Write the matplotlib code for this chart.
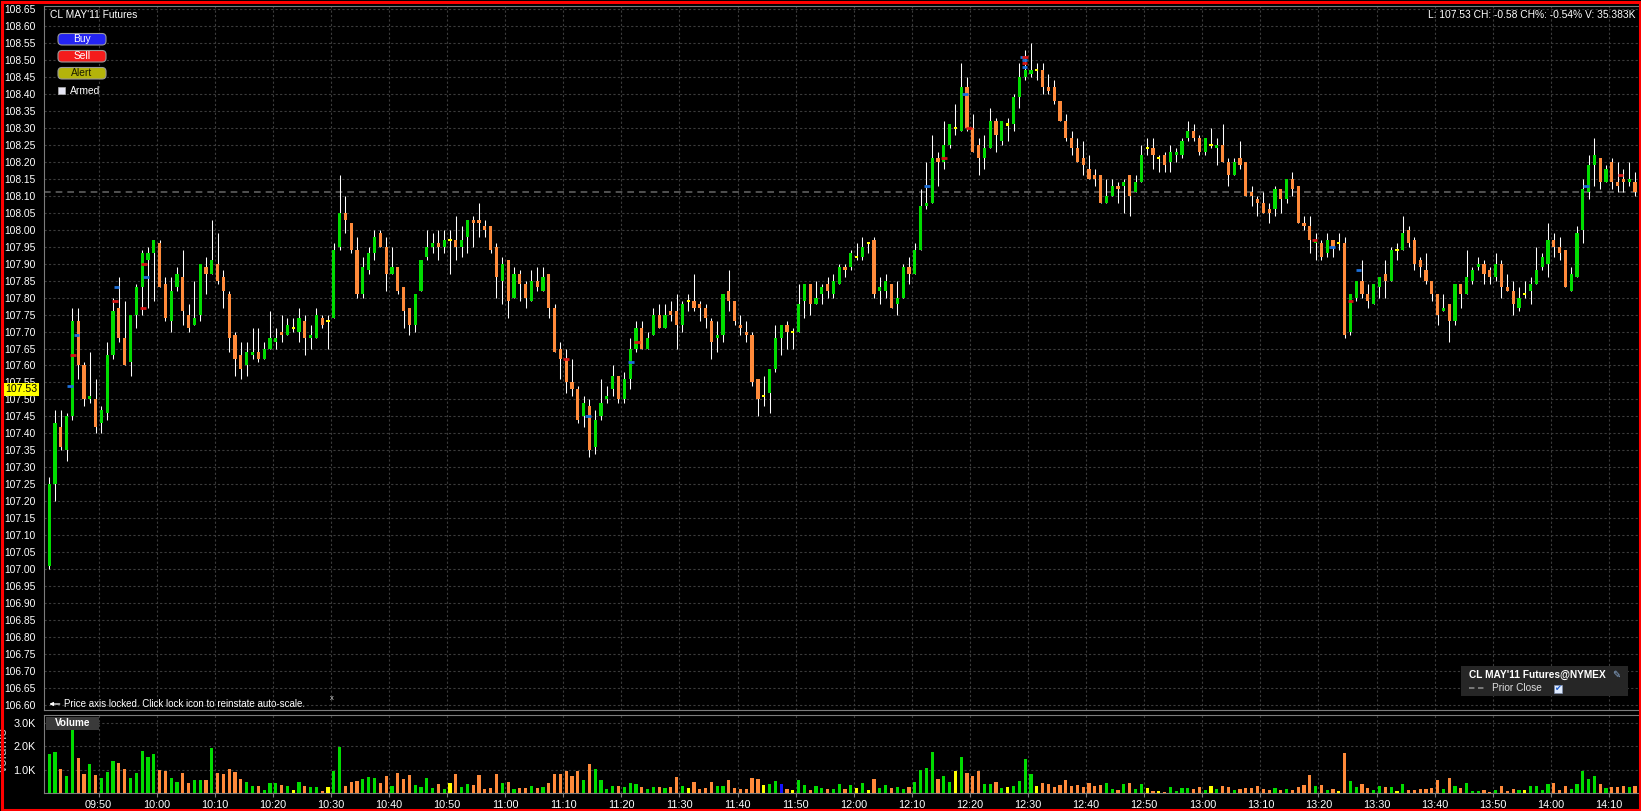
import numpy as np
import matplotlib
matplotlib.use("Agg")
import matplotlib.pyplot as plt
from matplotlib.patches import FancyBboxPatch, Rectangle, FancyArrowPatch
from matplotlib.transforms import IdentityTransform
from matplotlib.lines import Line2D

plt.rcParams["font.family"] = ["Liberation Sans", "DejaVu Sans"]

# ---- data: CL MAY'11 1-minute bars, first bar 09:41 ----
first_minute = 9 * 60 + 41

opens = [
    107.01, 107.25, 107.42, 107.35, 107.45, 107.73, 107.60, 107.50, 107.50, 107.43,
    107.46, 107.63, 107.77, 107.68, 107.61, 107.75, 107.83, 107.91, 107.93, 107.96,
    107.84, 107.73, 107.83, 107.86, 107.75, 107.72, 107.75, 107.89, 107.87, 107.90,
    107.86, 107.81, 107.69, 107.63, 107.60, 107.63, 107.64, 107.62, 107.65, 107.67,
    107.70, 107.69, 107.71, 107.70, 107.73, 107.68, 107.68, 107.74, 107.73, 107.74,
    107.95, 108.05, 108.02, 107.94, 107.81, 107.88, 107.93, 107.99, 107.95, 107.87,
    107.89, 107.83, 107.77, 107.72, 107.82, 107.92, 107.95, 107.96, 107.95, 107.97,
    107.97, 107.95, 107.98, 108.03, 108.03, 108.01, 108.01, 107.95, 107.85, 107.91,
    107.80, 107.87, 107.84, 107.79, 107.85, 107.82, 107.87, 107.77, 107.65, 107.62,
    107.55, 107.53, 107.45, 107.48, 107.36, 107.45, 107.50, 107.53, 107.57, 107.50,
    107.56, 107.65, 107.71, 107.65, 107.69, 107.75, 107.71, 107.76, 107.76, 107.72,
    107.79, 107.79, 107.78, 107.77, 107.73, 107.68, 107.69, 107.82, 107.79, 107.72,
    107.70, 107.69, 107.56, 107.51, 107.52, 107.59, 107.68, 107.72, 107.70, 107.70,
    107.79, 107.84, 107.78, 107.81, 107.84, 107.81, 107.84, 107.89, 107.89, 107.92,
    107.92, 107.96, 107.97, 107.82, 107.82, 107.84, 107.78, 107.80, 107.89, 107.87,
    107.94, 108.07, 108.08, 108.21, 108.20, 108.25, 108.30, 108.29, 108.42, 108.30,
    108.25, 108.21, 108.24, 108.32, 108.26, 108.31, 108.31, 108.39, 108.45, 108.46,
    108.47, 108.47, 108.42, 108.42, 108.38, 108.32, 108.27, 108.24, 108.21, 108.18,
    108.16, 108.16, 108.08, 108.10, 108.13, 108.13, 108.16, 108.11, 108.14, 108.24,
    108.24, 108.21, 108.22, 108.20, 108.22, 108.22, 108.27, 108.29, 108.27, 108.23,
    108.25, 108.24, 108.25, 108.20, 108.16, 108.21, 108.20, 108.11, 108.09, 108.08,
    108.06, 108.06, 108.12, 108.09, 108.15, 108.13, 108.02, 108.01, 107.96, 107.96,
    107.93, 107.97, 107.96, 107.96, 107.70, 107.80, 107.85, 107.81, 107.78, 107.83,
    107.87, 107.85, 107.94, 107.94, 108.00, 107.97, 107.91, 107.88, 107.85, 107.81,
    107.76, 107.78, 107.73, 107.84, 107.81, 107.85, 107.89, 107.90, 107.88, 107.86,
    107.90, 107.83, 107.82, 107.77, 107.81, 107.82, 107.84, 107.89, 107.90, 107.97,
    107.95, 107.94, 107.82, 107.86, 108.00, 108.11, 108.19, 108.21, 108.14, 108.20,
    108.14, 108.15, 108.14, 108.14,
]

highs = [
    107.27, 107.47, 107.47, 107.46, 107.77, 107.77, 107.61, 107.64, 107.56, 107.48,
    107.67, 107.80, 107.86, 107.79, 107.75, 107.84, 107.94, 107.95, 107.97, 107.97,
    107.86, 107.86, 107.89, 107.94, 107.78, 107.85, 107.90, 107.92, 108.03, 107.99,
    107.88, 107.82, 107.70, 107.67, 107.67, 107.71, 107.71, 107.67, 107.76, 107.71,
    107.75, 107.74, 107.74, 107.77, 107.75, 107.72, 107.77, 107.75, 107.75, 107.96,
    108.16, 108.10, 108.02, 107.98, 107.92, 107.95, 108.00, 108.00, 107.98, 107.95,
    107.89, 107.83, 107.77, 107.81, 107.91, 108.00, 107.99, 108.00, 108.00, 108.00,
    108.04, 108.01, 108.03, 108.04, 108.08, 108.03, 108.01, 107.96, 107.92, 107.91,
    107.89, 107.88, 107.85, 107.88, 107.89, 107.89, 107.87, 107.78, 107.67, 107.65,
    107.62, 107.54, 107.51, 107.50, 107.47, 107.56, 107.54, 107.60, 107.57, 107.58,
    107.68, 107.73, 107.73, 107.70, 107.77, 107.78, 107.78, 107.79, 107.81, 107.79,
    107.81, 107.87, 107.79, 107.78, 107.74, 107.73, 107.81, 107.88, 107.79, 107.75,
    107.73, 107.70, 107.56, 107.57, 107.59, 107.72, 107.72, 107.73, 107.71, 107.84,
    107.84, 107.84, 107.85, 107.84, 107.86, 107.87, 107.90, 107.90, 107.94, 107.96,
    107.98, 107.96, 107.98, 107.86, 107.87, 107.84, 107.85, 107.90, 107.92, 107.96,
    108.12, 108.20, 108.28, 108.23, 108.32, 108.31, 108.37, 108.49, 108.45, 108.34,
    108.27, 108.28, 108.36, 108.33, 108.32, 108.33, 108.40, 108.49, 108.53, 108.55,
    108.49, 108.49, 108.46, 108.44, 108.38, 108.34, 108.29, 108.27, 108.26, 108.22,
    108.18, 108.16, 108.15, 108.15, 108.14, 108.15, 108.16, 108.16, 108.25, 108.27,
    108.27, 108.22, 108.23, 108.25, 108.24, 108.27, 108.32, 108.31, 108.28, 108.27,
    108.30, 108.27, 108.31, 108.21, 108.21, 108.26, 108.20, 108.13, 108.10, 108.11,
    108.08, 108.13, 108.12, 108.15, 108.17, 108.13, 108.04, 108.04, 107.99, 107.97,
    107.99, 107.97, 107.99, 107.98, 107.81, 107.85, 107.91, 107.84, 107.84, 107.86,
    107.91, 107.95, 107.96, 108.04, 108.01, 107.98, 107.92, 107.93, 107.85, 107.81,
    107.81, 107.78, 107.84, 107.84, 107.94, 107.89, 107.92, 107.91, 107.89, 107.93,
    107.91, 107.87, 107.85, 107.83, 107.85, 107.86, 107.95, 107.93, 108.02, 107.99,
    107.98, 107.94, 107.89, 108.01, 108.15, 108.22, 108.27, 108.21, 108.19, 108.21,
    108.20, 108.18, 108.20, 108.17,
]

lows = [
    107.00, 107.20, 107.35, 107.32, 107.44, 107.56, 107.48, 107.49, 107.40, 107.40,
    107.44, 107.62, 107.67, 107.60, 107.57, 107.71, 107.75, 107.77, 107.79, 107.83,
    107.73, 107.70, 107.82, 107.72, 107.70, 107.72, 107.73, 107.81, 107.87, 107.84,
    107.77, 107.64, 107.57, 107.56, 107.57, 107.62, 107.61, 107.62, 107.65, 107.65,
    107.67, 107.69, 107.70, 107.67, 107.63, 107.65, 107.68, 107.71, 107.65, 107.74,
    107.94, 107.99, 107.93, 107.80, 107.80, 107.87, 107.91, 107.95, 107.82, 107.87,
    107.81, 107.71, 107.69, 107.70, 107.82, 107.91, 107.93, 107.91, 107.93, 107.87,
    107.91, 107.92, 107.93, 107.95, 107.98, 107.98, 107.93, 107.80, 107.78, 107.74,
    107.80, 107.79, 107.77, 107.79, 107.82, 107.82, 107.74, 107.64, 107.56, 107.52,
    107.51, 107.43, 107.42, 107.33, 107.34, 107.44, 107.49, 107.51, 107.49, 107.49,
    107.53, 107.64, 107.65, 107.65, 107.69, 107.71, 107.71, 107.73, 107.65, 107.70,
    107.76, 107.76, 107.73, 107.71, 107.62, 107.64, 107.67, 107.76, 107.72, 107.69,
    107.67, 107.54, 107.45, 107.48, 107.46, 107.58, 107.63, 107.65, 107.65, 107.70,
    107.74, 107.75, 107.78, 107.78, 107.80, 107.80, 107.84, 107.86, 107.88, 107.91,
    107.91, 107.93, 107.80, 107.78, 107.80, 107.77, 107.75, 107.80, 107.84, 107.87,
    107.94, 108.06, 108.08, 108.13, 108.18, 108.24, 108.28, 108.29, 108.29, 108.23,
    108.16, 108.18, 108.24, 108.23, 108.25, 108.26, 108.29, 108.36, 108.44, 108.45,
    108.44, 108.40, 108.40, 108.37, 108.32, 108.26, 108.22, 108.20, 108.16, 108.15,
    108.13, 108.08, 108.08, 108.10, 108.08, 108.05, 108.04, 108.11, 108.14, 108.22,
    108.18, 108.17, 108.17, 108.17, 108.20, 108.21, 108.26, 108.26, 108.22, 108.22,
    108.24, 108.19, 108.20, 108.13, 108.16, 108.18, 108.10, 108.07, 108.04, 108.05,
    108.02, 108.04, 108.05, 108.08, 108.10, 108.02, 108.00, 107.93, 107.91, 107.91,
    107.92, 107.92, 107.94, 107.68, 107.69, 107.79, 107.80, 107.77, 107.78, 107.80,
    107.80, 107.85, 107.91, 107.94, 107.95, 107.88, 107.86, 107.84, 107.79, 107.72,
    107.76, 107.67, 107.72, 107.77, 107.81, 107.84, 107.88, 107.84, 107.84, 107.85,
    107.80, 107.82, 107.75, 107.76, 107.80, 107.78, 107.84, 107.88, 107.86, 107.92,
    107.91, 107.83, 107.82, 107.86, 107.96, 108.09, 108.13, 108.12, 108.14, 108.12,
    108.11, 108.11, 108.13, 108.10,
]

closes = [
    107.25, 107.43, 107.36, 107.45, 107.73, 107.60, 107.50, 107.51, 107.42, 107.47,
    107.63, 107.76, 107.68, 107.60, 107.75, 107.83, 107.93, 107.93, 107.97, 107.83,
    107.74, 107.82, 107.87, 107.76, 107.71, 107.74, 107.90, 107.87, 107.91, 107.85,
    107.82, 107.68, 107.62, 107.59, 107.64, 107.64, 107.62, 107.65, 107.68, 107.68,
    107.69, 107.72, 107.71, 107.74, 107.68, 107.69, 107.75, 107.72, 107.73, 107.94,
    108.05, 108.03, 107.94, 107.81, 107.89, 107.93, 107.98, 107.95, 107.87, 107.89,
    107.82, 107.76, 107.72, 107.81, 107.91, 107.95, 107.96, 107.95, 107.97, 107.97,
    107.95, 107.97, 108.03, 108.02, 108.02, 108.00, 107.94, 107.86, 107.90, 107.79,
    107.87, 107.84, 107.80, 107.85, 107.83, 107.86, 107.77, 107.64, 107.62, 107.55,
    107.53, 107.44, 107.49, 107.35, 107.44, 107.49, 107.51, 107.57, 107.50, 107.56,
    107.65, 107.71, 107.65, 107.68, 107.75, 107.71, 107.75, 107.75, 107.72, 107.78,
    107.79, 107.77, 107.77, 107.74, 107.67, 107.69, 107.81, 107.79, 107.73, 107.71,
    107.69, 107.55, 107.50, 107.51, 107.59, 107.68, 107.72, 107.70, 107.70, 107.78,
    107.84, 107.78, 107.80, 107.83, 107.82, 107.85, 107.89, 107.88, 107.93, 107.92,
    107.95, 107.96, 107.81, 107.83, 107.85, 107.77, 107.80, 107.89, 107.87, 107.94,
    108.07, 108.08, 108.21, 108.20, 108.25, 108.31, 108.30, 108.42, 108.30, 108.23,
    108.21, 108.24, 108.32, 108.28, 108.32, 108.31, 108.39, 108.45, 108.47, 108.47,
    108.47, 108.42, 108.41, 108.38, 108.32, 108.27, 108.24, 108.20, 108.19, 108.15,
    108.15, 108.08, 108.10, 108.13, 108.12, 108.14, 108.10, 108.14, 108.22, 108.24,
    108.22, 108.21, 108.19, 108.23, 108.23, 108.26, 108.29, 108.27, 108.23, 108.27,
    108.25, 108.25, 108.20, 108.16, 108.20, 108.19, 108.10, 108.10, 108.08, 108.05,
    108.05, 108.12, 108.09, 108.15, 108.12, 108.02, 108.01, 107.97, 107.97, 107.92,
    107.97, 107.95, 107.96, 107.69, 107.81, 107.85, 107.81, 107.79, 107.84, 107.86,
    107.85, 107.94, 107.94, 107.99, 107.96, 107.90, 107.89, 107.85, 107.81, 107.75,
    107.77, 107.73, 107.84, 107.81, 107.86, 107.88, 107.90, 107.87, 107.86, 107.90,
    107.83, 107.82, 107.78, 107.80, 107.81, 107.84, 107.88, 107.92, 107.97, 107.95,
    107.93, 107.83, 107.87, 107.99, 108.12, 108.19, 108.22, 108.14, 108.18, 108.14,
    108.13, 108.14, 108.15, 108.11,
]

# volume per bar, thousands of contracts
volumes_k = [
    1.67, 1.76, 1.04, 0.74, 3.19, 1.50, 0.82, 1.25, 0.78, 0.65,
    0.91, 1.38, 1.29, 1.04, 0.65, 0.87, 1.80, 1.55, 1.67, 0.99,
    0.95, 0.65, 0.48, 0.87, 0.44, 0.57, 0.57, 0.57, 1.93, 0.87,
    0.82, 1.04, 0.91, 0.61, 0.48, 0.31, 0.31, 0.14, 0.44, 0.44,
    0.35, 0.31, 0.14, 0.48, 0.31, 0.27, 0.27, 0.10, 0.27, 0.95,
    1.97, 0.31, 0.48, 0.52, 0.61, 0.70, 0.65, 0.44, 0.74, 0.31,
    0.87, 0.61, 0.78, 0.35, 0.27, 0.65, 0.23, 0.40, 0.18, 0.44,
    0.82, 0.27, 0.40, 0.35, 0.78, 0.18, 0.23, 0.82, 0.44, 0.48,
    0.18, 0.23, 0.23, 0.31, 0.23, 0.27, 0.44, 0.82, 0.82, 0.95,
    0.74, 0.95, 0.57, 1.25, 1.04, 0.57, 0.18, 0.31, 0.31, 0.27,
    0.44, 0.40, 0.27, 0.18, 0.27, 0.27, 0.23, 0.27, 0.70, 0.31,
    0.23, 0.48, 0.18, 0.23, 0.48, 0.31, 0.31, 0.57, 0.23, 0.18,
    0.18, 0.65, 0.61, 0.35, 0.40, 0.52, 0.40, 0.18, 0.14, 0.57,
    0.35, 0.14, 0.31, 0.23, 0.18, 0.18, 0.40, 0.18, 0.35, 0.23,
    0.44, 0.14, 0.61, 0.23, 0.35, 0.23, 0.27, 0.18, 0.27, 0.48,
    0.99, 1.08, 1.76, 0.61, 0.74, 0.48, 0.95, 1.55, 0.87, 0.74,
    0.95, 0.40, 0.40, 0.48, 0.23, 0.27, 0.31, 0.52, 1.46, 0.82,
    0.31, 0.44, 0.40, 0.27, 0.35, 0.57, 0.31, 0.35, 0.27, 0.44,
    0.31, 0.35, 0.44, 0.18, 0.14, 0.40, 0.44, 0.18, 0.40, 0.23,
    0.10, 0.10, 0.06, 0.27, 0.10, 0.23, 0.23, 0.18, 0.27, 0.14,
    0.31, 0.18, 0.31, 0.27, 0.14, 0.18, 0.23, 0.23, 0.31, 0.18,
    0.14, 0.23, 0.14, 0.18, 0.14, 0.27, 0.35, 0.78, 0.31, 0.35,
    0.14, 0.18, 0.10, 1.72, 0.52, 0.27, 0.40, 0.23, 0.14, 0.31,
    0.27, 0.27, 0.10, 0.40, 0.14, 0.14, 0.18, 0.18, 0.23, 0.57,
    0.18, 0.65, 0.31, 0.23, 0.44, 0.10, 0.10, 0.14, 0.06, 0.14,
    0.31, 0.10, 0.18, 0.14, 0.14, 0.31, 0.31, 0.14, 0.40, 0.44,
    0.14, 0.31, 0.18, 0.40, 0.95, 0.61, 0.74, 0.40, 0.23, 0.27,
    0.27, 0.31, 0.27, 0.31,
]
highlight_bar = 126  # volume bar drawn in blue

# trade markers: bar position, price, side
marker_pos = [3.6, 4.1, 4.7, 11.3, 11.6, 16.3, 16.7, 16.2, 88.9, 92.7, 100.1, 101.2,
              151.1, 154.1, 157.7, 158.4, 167.6, 168.0, 167.9, 167.9, 167.9,
              217.8, 220.8, 224.0, 225.4, 264.5, 270.5]
marker_price = [107.54, 107.63, 107.69, 107.79, 107.83, 107.90, 107.86, 107.77, 107.62, 107.45,
                107.61, 107.67, 108.13, 108.21, 108.40, 108.30, 108.51, 108.51, 108.50,
                108.49, 108.48, 107.97, 107.95, 107.79, 107.88, 108.13, 108.16]
marker_side = ["b", "r", "b", "r", "b", "r", "b", "r", "r", "b", "b", "r",
               "b", "r", "b", "r", "b", "r", "b", "r", "b",
               "r", "b", "r", "b", "b", "r"]

time_labels = ["09:50", "10:00", "10:10", "10:20", "10:30", "10:40", "10:50", "11:00",
               "11:10", "11:20", "11:30", "11:40", "11:50", "12:00", "12:10", "12:20",
               "12:30", "12:40", "12:50", "13:00", "13:10", "13:20", "13:30", "13:40",
               "13:50", "14:00", "14:10"]
first_tick_minute = 9 * 60 + 50
vol_ticks = [1000, 2000, 3000]
vol_labels = ["1.0K", "2.0K", "3.0K"]

prior_close = 108.11
last_price = 107.53
header = "L: 107.53 CH: -0.58 CH%: -0.54% V: 35.383K"

# ---- style ----
W, H = 1641, 811
GREEN = "#00dc00"
ORANGE = "#ff8a3a"
YELLOW = "#ffff00"
HILITE = "#1414ff"
GRID = "#3b3b3b"
SPINE = "#7c7c7c"
PX = IdentityTransform()


def fx(x):
    return x / W


def fy(y):
    return 1 - y / H


fig = plt.figure(figsize=(W / 100, H / 100), dpi=100, facecolor="black")
ax = fig.add_axes([fx(44.3), fy(710), fx(1638) - fx(44.3), fy(5.7) - fy(710)])
axv = fig.add_axes([fx(44.3), fy(793.3), fx(1638) - fx(44.3), fy(715) - fy(793.3)], sharex=ax)

o, h, l, c = (np.array(v) for v in (opens, highs, lows, closes))
x = first_minute + 0.5 + np.arange(len(o))
diff = np.round(c - o, 4)
colors = np.where(diff > 0, GREEN, np.where(diff < 0, ORANGE, YELLOW))

# price panel
ax.set_facecolor("black")
ax.vlines(x, l, h, color="white", lw=0.75, zorder=2)
body = np.where(diff == 0, 0.006, np.abs(diff))
bottom = np.where(diff == 0, o - 0.003, np.minimum(o, c))
ax.bar(x, body, bottom=bottom, width=0.55, color=colors, lw=0, zorder=3)

mx = first_minute + 0.5 + np.array(marker_pos)
mcol = ["#1c6fd8" if s == "b" else "#d81414" for s in marker_side]
ax.hlines(marker_price, mx - 0.5, mx + 0.5, colors=mcol, lw=2, zorder=4)

ax.axhline(prior_close, color="#5e5e5e", lw=1.2, ls=(0, (4, 3)), zorder=1)

price_ticks = np.round(np.arange(106.60, 108.651, 0.05), 2)
ax.set_yticks(price_ticks)
ax.set_yticklabels([f"{t:.2f}" for t in price_ticks])
ax.set_ylim(106.585, 108.66)
tick_minutes = first_tick_minute + 10 * np.arange(len(time_labels))
ax.set_xticks(tick_minutes)
ax.set_xlim(first_minute + 0.5 - 0.84, first_minute + 0.5 + 273.5)
ax.tick_params(axis="y", length=0, pad=6, labelsize=7.4, labelcolor="white")
ax.tick_params(axis="x", length=0, labelbottom=False)
ax.grid(True, color=GRID, ls=(0, (2, 2)), lw=0.8)
ax.set_axisbelow(True)
for side, sp in ax.spines.items():
    sp.set_color(SPINE)
    sp.set_visible(side != "right")

ax.annotate(f"{last_price:.2f}", xy=(0, last_price), xycoords=("axes fraction", "data"),
            xytext=(-7, 0), textcoords="offset pixels", ha="right", va="center",
            fontsize=7.6, color="black", annotation_clip=False, zorder=10,
            bbox=dict(boxstyle="square,pad=0.15", fc=YELLOW, ec="none"))

# volume panel
axv.set_facecolor("black")
vcol = colors.copy()
vcol[highlight_bar] = HILITE
axv.bar(x, np.array(volumes_k) * 1000, width=0.55, color=vcol, lw=0, zorder=3)
axv.set_ylim(0, 3330)
axv.set_yticks(vol_ticks)
axv.set_yticklabels(vol_labels)
axv.set_xticks(tick_minutes)
axv.set_xticklabels(time_labels)
axv.tick_params(axis="y", length=0, pad=6, labelsize=7.8, labelcolor="white")
axv.tick_params(axis="x", length=3, color=SPINE, pad=2, labelsize=7.8, labelcolor="white")
axv.grid(True, color=GRID, ls=(0, (2, 2)), lw=0.8)
axv.set_axisbelow(True)
for side, sp in axv.spines.items():
    sp.set_color(SPINE)
    sp.set_visible(side != "right")

# ---- overlays ----
fig.text(fx(50), fy(15), "CL MAY'11 Futures", color="white", fontsize=7.4, va="center")
fig.text(fx(1636), fy(15), header, color="white", fontsize=7.4, va="center", ha="right")


def button(y0, y1, fc, label, tc):
    fig.add_artist(FancyBboxPatch((58, H - y1), 48, y1 - y0,
                                  boxstyle="round,pad=0,rounding_size=4",
                                  fc=fc, ec="#9a9a9a", lw=0.8, transform=PX, zorder=6))
    fig.text(fx(82), fy((y0 + y1) / 2), label, color=tc, fontsize=7.4,
             ha="center", va="center", zorder=7)


button(33.5, 45, "#2424f4", "Buy", "white")
button(50.5, 62, "#f41c1c", "Sell", "white")
button(67.5, 79, "#b4b40a", "Alert", "#1c1c00")
fig.add_artist(Rectangle((58, H - 94), 7, 7, fc="#e6e6f4", ec="#b0b0b0", lw=0.5,
                         transform=PX, zorder=6))
fig.text(fx(70), fy(90.5), "Armed", color="white", fontsize=7.4, va="center")

fig.add_artist(FancyArrowPatch((62.5, H - 704), (46.5, H - 704), arrowstyle="-|>",
                               mutation_scale=5, color="white", lw=0.9,
                               transform=PX, zorder=6))
fig.text(fx(63.5), fy(704), "Price axis locked. Click lock icon to reinstate auto-scale.",
         color="white", fontsize=7.0, va="center")
fig.text(fx(330), fy(698.5), "x", color="#dddddd", fontsize=5.5, va="center")

fig.add_artist(Rectangle((45.7, H - 730), 53.3, 13, fc="#3a3a3a", ec="none",
                         transform=PX, zorder=6))
fig.text(fx(72.3), fy(723.5), "Volume", color="white", fontsize=7.2, weight="bold",
         ha="center", va="center", zorder=7)
fig.text(fx(3), fy(750), "volume", color="#c0c0c0", fontsize=10, rotation=90,
         ha="center", va="center")

fig.add_artist(Rectangle((1461, H - 696), 167, 30, fc="#262626", ec="none",
                         transform=PX, zorder=6))
fig.text(fx(1469), fy(674.5), "CL MAY'11 Futures@NYMEX", color="white", fontsize=7.3,
         weight="bold", va="center", zorder=7)
fig.text(fx(1616), fy(674.5), "\u270e", color="#8fb0d8", fontsize=7, ha="center",
         va="center", family=["DejaVu Sans"], zorder=7)
fig.add_artist(Line2D([1469, 1487], [H - 688, H - 688], color="#808080", lw=1.3,
                      ls=(0, (3, 2)), transform=PX, zorder=7))
fig.text(fx(1492), fy(688), "Prior Close", color="#dddddd", fontsize=7.3, va="center",
         zorder=7)
fig.add_artist(Rectangle((1554, H - 692.5), 8, 8, fc="#e0ecff", ec="#8090b0", lw=0.5,
                         transform=PX, zorder=7))
fig.text(fx(1558), fy(688.5), "\u2714", color="#1f5fd0", fontsize=6, ha="center",
         va="center", family=["DejaVu Sans"], zorder=8)

# red frame
fig.add_artist(Rectangle((1.5, 1.5), W - 3, H - 3, fill=False, ec="#ff0000", lw=2.2,
                         transform=PX, zorder=20))

fig.savefig("out.png", dpi=100, facecolor="black")
